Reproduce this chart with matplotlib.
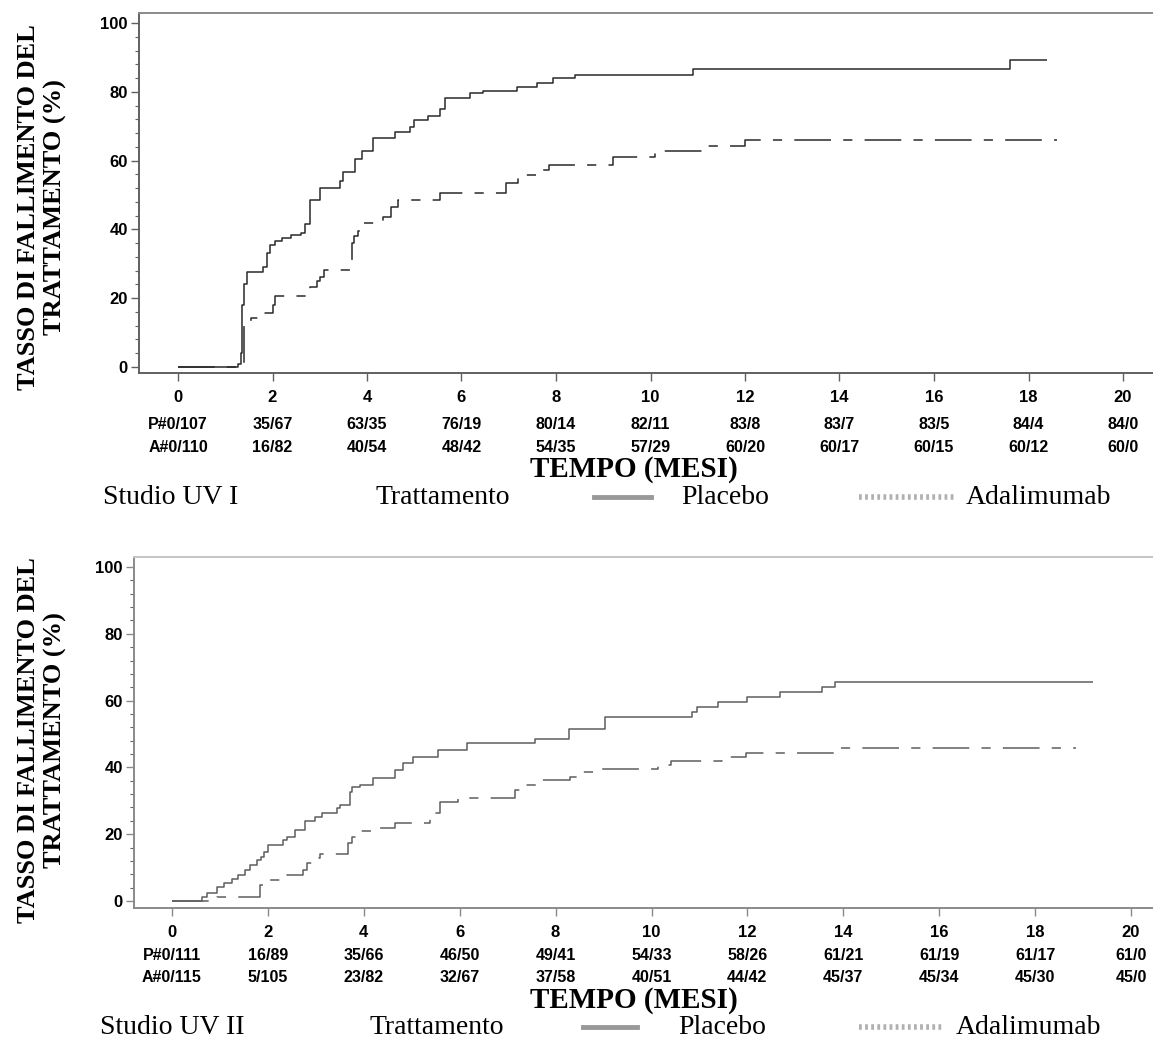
import matplotlib
matplotlib.use('Agg')
import matplotlib.pyplot as plt
from matplotlib.transforms import blended_transform_factory
from matplotlib.lines import Line2D
from matplotlib.ticker import MultipleLocator

# ---------------- data ----------------
months_ticks = [0, 2, 4, 6, 8, 10, 12, 14, 16, 18, 20]

# Studio UV I
uv1_placebo_t = [0, 1.27, 1.33, 1.36, 1.40, 1.45, 1.80, 1.88, 1.95, 2.05, 2.20, 2.40, 2.60, 2.69, 2.80,
                 3.00, 3.43, 3.50, 3.75, 3.90, 4.13, 4.60, 4.90, 5.00, 5.30, 5.55, 5.65, 6.18, 6.45,
                 7.17, 7.60, 7.94, 8.40, 10.9, 17.6, 18.4]
uv1_placebo_v = [0, 1, 4, 18, 24, 27.6, 29, 33, 35.5, 36.5, 37.5, 38.3, 39, 41.6, 48.5,
                 52, 54, 56.7, 60.4, 62.8, 66.5, 68.4, 69.8, 71.8, 73, 75, 78.2, 79.6, 80.2,
                 81.4, 82.5, 84, 84.9, 86.6, 89.2, 89.2]
uv1_ada_t = [0, 1.40, 1.55, 1.80, 2.00, 2.05, 2.80, 2.95, 3.00, 3.10, 3.68, 3.72, 3.80, 3.92, 4.34,
             4.50, 4.66, 5.55, 6.95, 7.20, 7.60, 7.85, 9.2, 10.1, 11.1, 12.0, 18.6]
uv1_ada_v = [0, 12.8, 14.2, 15.7, 18, 20.5, 23.3, 25, 26.2, 28.2, 36, 38, 39.5, 41.8, 43.6,
             46.5, 48.5, 50.6, 53.5, 55.8, 57.3, 58.7, 61, 62.9, 64.3, 66, 66]
uv1_risk_p = ["P#0/107", "35/67", "63/35", "76/19", "80/14", "82/11", "83/8", "83/7", "83/5", "84/4", "84/0"]
uv1_risk_a = ["A#0/110", "16/82", "40/54", "48/42", "54/35", "57/29", "60/20", "60/17", "60/15", "60/12", "60/0"]

# Studio UV II
uv2_placebo_t = [0, 0.63, 0.73, 0.94, 1.08, 1.25, 1.38, 1.52, 1.63, 1.77, 1.86, 1.92, 2.00, 2.32, 2.39,
                 2.56, 2.77, 2.98, 3.12, 3.44, 3.50, 3.71, 3.76, 3.92, 4.19, 4.65, 4.82, 5.03, 5.55,
                 6.15, 7.57, 8.28, 9.03, 10.84, 10.95, 11.39, 11.99, 12.68, 13.55, 13.83, 19.2]
uv2_placebo_v = [0, 1.2, 2.4, 4.2, 5.4, 6.6, 7.8, 9.3, 10.8, 12.3, 13.2, 14.7, 16.8, 18.3, 19.2,
                 21.3, 24, 25.2, 26.4, 27.8, 28.7, 32.6, 34.1, 34.7, 36.8, 39.2, 41.3, 43.1, 45.2,
                 47.3, 48.5, 51.5, 55.1, 56.6, 58.1, 59.6, 61.1, 62.6, 64.1, 65.6, 65.6]
uv2_ada_t = [0, 0.94, 1.84, 1.98, 2.40, 2.73, 2.81, 2.98, 3.09, 3.67, 3.75, 3.92, 4.19, 4.65, 5.38,
             5.59, 5.96, 7.15, 7.36, 7.67, 8.30, 8.50, 8.78, 10.14, 10.4, 11.47, 11.97, 13.85, 18.85]
uv2_ada_v = [0, 1.2, 4.8, 6.3, 7.8, 9.3, 11.4, 12.9, 14.1, 17.4, 19.2, 21.0, 21.9, 23.4, 26.3,
             29.6, 30.8, 33.2, 34.7, 36.2, 37.1, 38.6, 39.5, 40.7, 41.9, 43.1, 44.3, 45.8, 45.8]
uv2_risk_p = ["P#0/111", "16/89", "35/66", "46/50", "49/41", "54/33", "58/26", "61/21", "61/19", "61/17", "61/0"]
uv2_risk_a = ["A#0/115", "5/105", "23/82", "32/67", "37/58", "40/51", "44/42", "45/37", "45/34", "45/30", "45/0"]

ylabel_text = "TASSO DI FALLIMENTO DEL\nTRATTAMENTO (%)"
xlabel_text = "TEMPO (MESI)"

# ---------------- figure ----------------
W, H = 1153, 1043
fig = plt.figure(figsize=(W / 100, H / 100), dpi=100)

def fx(px):
    return px / W

def fy(py):
    return 1 - py / H

SANS = ['Liberation Sans', 'DejaVu Sans']
SERIF = ['Liberation Serif', 'DejaVu Serif']


def make_panel(left, top, bottom, x0px, x20px, y0px, y100px, line_col, spine_col, topspine_col,
               pt, pv, at, av, risk_p, risk_a, rows_y, study, leg_pos, ylab_y):
    ax = fig.add_axes([fx(left), fy(bottom), 1 - fx(left), (bottom - top) / H])
    xs = (x20px - x0px) / 20.0
    ys = (y0px - y100px) / 100.0
    ax.set_xlim((left - x0px) / xs, (W - x0px) / xs)
    ax.set_ylim((y0px - bottom) / ys, (y0px - top) / ys)

    ax.step(pt, pv, where='post', color=line_col, lw=1.1, solid_capstyle='butt')
    ax.step(at, av, where='post', color=line_col, lw=1.1, linestyle=(0, (24, 8, 6, 8)))

    ax.spines['right'].set_visible(False)
    ax.spines['left'].set_color(spine_col)
    ax.spines['bottom'].set_color(spine_col)
    ax.spines['top'].set_color(topspine_col)
    for s in ['left', 'bottom', 'top']:
        ax.spines[s].set_linewidth(1.4)

    ax.set_xticks(months_ticks)
    ax.set_xticklabels([str(m) for m in months_ticks])
    ax.set_yticks([0, 20, 40, 60, 80, 100])
    ax.yaxis.set_minor_locator(MultipleLocator(4))
    ax.tick_params(axis='x', length=6, width=1, color=spine_col, pad=6, labelsize=12)
    ax.tick_params(axis='y', which='major', length=6, width=1, color=spine_col, pad=2, labelsize=12)
    ax.tick_params(axis='y', which='minor', length=3, width=0.8, color='#6a5a6a')
    for lab in ax.get_xticklabels() + ax.get_yticklabels():
        lab.set_fontweight('bold')
        lab.set_family(SANS)

    tr = blended_transform_factory(ax.transData, fig.transFigure)
    for m, p, a in zip(months_ticks, risk_p, risk_a):
        ax.text(m, fy(rows_y[0]), p, transform=tr, ha='center', va='center', fontsize=11.5,
                fontweight='bold', family=SANS, clip_on=False)
        ax.text(m, fy(rows_y[1]), a, transform=tr, ha='center', va='center', fontsize=11.5,
                fontweight='bold', family=SANS, clip_on=False)

    fig.text(fx(634), fy(rows_y[2]), xlabel_text, ha='center', va='center', fontsize=21,
             fontweight='bold', family=SERIF)

    ly = fy(rows_y[3])
    fig.text(fx(leg_pos[0]), ly, study, ha='left', va='center', fontsize=20, family=SERIF)
    fig.text(fx(leg_pos[1]), ly, "Trattamento", ha='left', va='center', fontsize=20, family=SERIF)
    fig.add_artist(Line2D([fx(leg_pos[2]), fx(leg_pos[3])], [ly, ly], transform=fig.transFigure,
                          color='#999999', lw=3.5))
    fig.text(fx(leg_pos[4]), ly, "Placebo", ha='left', va='center', fontsize=20, family=SERIF)
    fig.add_artist(Line2D([fx(leg_pos[5]), fx(leg_pos[6])], [ly, ly], transform=fig.transFigure,
                          color='#b0b0b0', lw=4, linestyle=(0, (0.5, 0.6))))
    fig.text(fx(leg_pos[7]), ly, "Adalimumab", ha='left', va='center', fontsize=20, family=SERIF)

    fig.text(fx(42), fy(ylab_y), ylabel_text, rotation=90, ha='center', va='center',
             multialignment='center', fontsize=19, fontweight='bold', family=SERIF, linespacing=1.2)
    return ax


make_panel(139, 13, 373, 178, 1123, 367, 23, '#2a2a2a', '#606060', '#8a8a8a',
           uv1_placebo_t, uv1_placebo_v, uv1_ada_t, uv1_ada_v, uv1_risk_p, uv1_risk_a,
           (425, 447, 470, 497), "Studio UV I",
           (103, 375, 594, 651, 681, 859, 956, 966), 207)

make_panel(134, 557, 908, 172, 1131, 901, 567, '#5e5e5e', '#8a8a8a', '#c4c4c4',
           uv2_placebo_t, uv2_placebo_v, uv2_ada_t, uv2_ada_v, uv2_risk_p, uv2_risk_a,
           (955, 977, 1000, 1027), "Studio UV II",
           (100, 369, 583, 637, 678, 859, 943, 956), 740)

fig.savefig('out.png', dpi=100)
